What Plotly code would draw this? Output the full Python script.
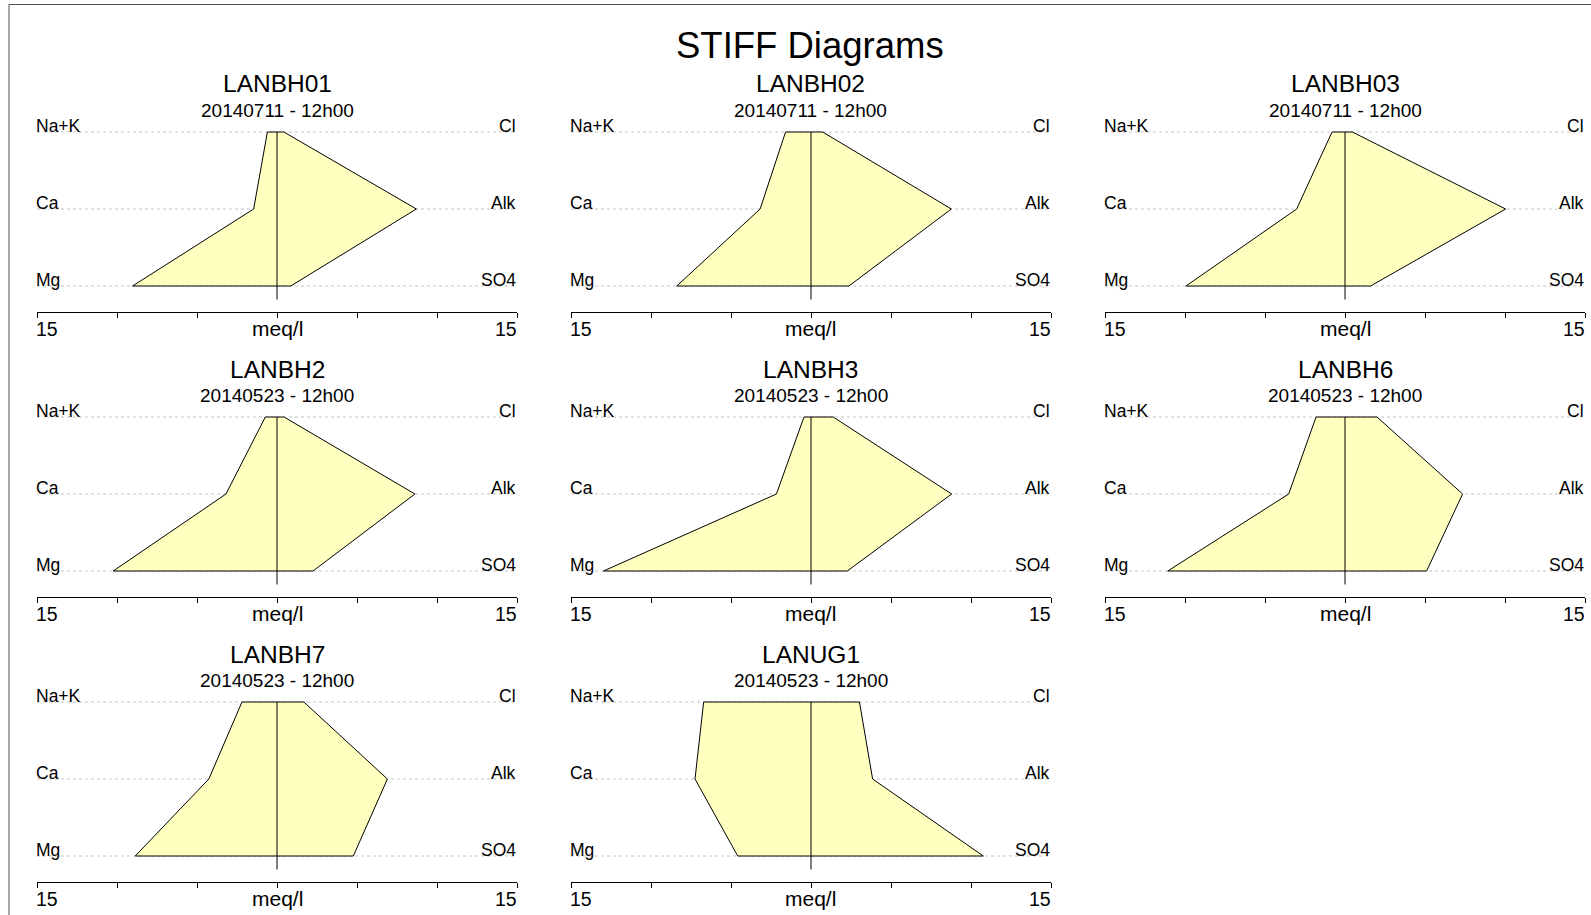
import plotly.graph_objects as go

# ---------------- data ----------------
samples = ["LANBH01", "LANBH02", "LANBH03", "LANBH2", "LANBH3", "LANBH6", "LANBH7", "LANUG1"]
dates = ["20140711 - 12h00", "20140711 - 12h00", "20140711 - 12h00",
         "20140523 - 12h00", "20140523 - 12h00", "20140523 - 12h00",
         "20140523 - 12h00", "20140523 - 12h00"]
cations = ["Na+K", "Ca", "Mg"]
anions = ["Cl", "Alk", "SO4"]
na_k = [0.60, 1.59, 0.81, 0.73, 0.44, 1.81, 2.19, 6.71]
ca   = [1.46, 3.18, 3.02, 3.19, 2.16, 3.52, 4.26, 7.25]
mg   = [9.03, 8.39, 9.94, 10.24, 12.97, 11.08, 8.86, 4.58]
cl   = [0.43, 0.73, 0.46, 0.44, 1.39, 2.00, 1.68, 3.03]
alk  = [8.71, 8.77, 10.04, 8.62, 8.79, 7.35, 6.90, 3.85]
so4  = [0.86, 2.37, 1.60, 2.25, 2.27, 5.10, 4.77, 10.77]
axis_max = 15
tick_vals = [-15, -10, -5, 0, 5, 10, 15]
unit_label = "meq/l"
main_title = "STIFF Diagrams"

# ---------------- layout geometry (pixels) ----------------
W, H = 1591, 915
FONT = "Liberation Sans, Arial, sans-serif"
COL_X0, COL_STEP, PANEL_W = 37, 534, 480
ROW_Y0, ROW_STEP, ROW_GAP = 132, 285, 77
AXIS_BELOW = 25.5
CENTER_BELOW = 13.5
TOP_PAD = 0.3

fill_col = "#FFFFC0"
grid_col = "#c4c4c4"

def px(x):
    return x / W

def py(y):
    return 1 - y / H

fig = go.Figure()
annotations = []
layout_axes = {}

for i, name in enumerate(samples):
    r, c = divmod(i, 3)
    x0 = COL_X0 + COL_STEP * c
    x1 = x0 + PANEL_W
    y_top_line = ROW_Y0 + ROW_STEP * r
    y_axis = y_top_line + 2 * ROW_GAP + AXIS_BELOW
    y_bot_val = 2 + AXIS_BELOW / ROW_GAP
    y_top_px = y_top_line - TOP_PAD * ROW_GAP

    k = "" if i == 0 else str(i + 1)
    xa, ya = "x" + k, "y" + k

    layout_axes["xaxis" + k] = dict(
        domain=[px(x0), px(x1)], range=[-axis_max, axis_max], anchor=ya,
        tickvals=tick_vals, ticks="outside", ticklen=5, tickcolor="black", tickwidth=1,
        showline=True, linecolor="black", linewidth=1, showgrid=False, zeroline=False,
        showticklabels=False, fixedrange=True,
    )
    layout_axes["yaxis" + k] = dict(
        domain=[py(y_axis), py(y_top_px)], range=[y_bot_val, -TOP_PAD], anchor=xa,
        visible=False, fixedrange=True,
    )

    # dotted row lines
    for row in range(3):
        fig.add_trace(go.Scatter(
            x=[-axis_max, axis_max], y=[row, row], mode="lines",
            line=dict(color=grid_col, width=1, dash="dot"),
            xaxis=xa, yaxis=ya, hoverinfo="skip", showlegend=False))

    # stiff polygon
    px_list = [-na_k[i], cl[i], alk[i], so4[i], -mg[i], -ca[i], -na_k[i]]
    py_list = [0, 0, 1, 2, 2, 1, 0]
    fig.add_trace(go.Scatter(
        x=px_list, y=py_list, mode="lines", fill="toself", fillcolor=fill_col,
        line=dict(color="black", width=1), xaxis=xa, yaxis=ya,
        name=name, showlegend=False))

    # central line
    fig.add_trace(go.Scatter(
        x=[0, 0], y=[0, 2 + CENTER_BELOW / ROW_GAP], mode="lines",
        line=dict(color="black", width=1), xaxis=xa, yaxis=ya,
        hoverinfo="skip", showlegend=False))

    # ion labels
    for row in range(3):
        annotations.append(dict(
            text=cations[row], x=-axis_max, y=row, xref=xa, yref=ya,
            xanchor="left", yanchor="bottom", showarrow=False, xshift=-3, yshift=-6,
            font=dict(family=FONT, size=17.5, color="black")))
        annotations.append(dict(
            text=anions[row], x=axis_max, y=row, xref=xa, yref=ya,
            xanchor="right", yanchor="bottom", showarrow=False, xshift=1, yshift=-6,
            font=dict(family=FONT, size=17.5, color="black")))

    # axis labels
    yl = py(y_axis + 17)
    annotations.append(dict(text=str(axis_max), x=px(x0), y=yl, xref="paper", yref="paper",
                            xanchor="left", yanchor="middle", showarrow=False, xshift=-3,
                            font=dict(family=FONT, size=19.5, color="black")))
    annotations.append(dict(text=str(axis_max), x=px(x1), y=yl, xref="paper", yref="paper",
                            xanchor="right", yanchor="middle", showarrow=False, xshift=2,
                            font=dict(family=FONT, size=19.5, color="black")))
    annotations.append(dict(text=unit_label, x=px((x0 + x1) / 2), y=yl, xref="paper", yref="paper",
                            xanchor="center", yanchor="middle", showarrow=False,
                            font=dict(family=FONT, size=21, color="black")))

    # panel title + date
    annotations.append(dict(text=name, x=px((x0 + x1) / 2), y=py(y_top_line - 48),
                            xref="paper", yref="paper", xanchor="center", yanchor="middle",
                            showarrow=False, font=dict(family=FONT, size=24.5, color="black")))
    annotations.append(dict(text=dates[i], x=px((x0 + x1) / 2), y=py(y_top_line - 22),
                            xref="paper", yref="paper", xanchor="center", yanchor="middle",
                            showarrow=False, font=dict(family=FONT, size=19, color="black")))

annotations.append(dict(text=main_title, x=px(810), y=py(45), xref="paper", yref="paper",
                        xanchor="center", yanchor="middle", showarrow=False,
                        font=dict(family=FONT, size=36.5, color="black")))

fig.update_layout(
    width=W, height=H, margin=dict(l=0, r=0, t=0, b=0),
    paper_bgcolor="white", plot_bgcolor="rgba(0,0,0,0)",
    annotations=annotations, showlegend=False,
    shapes=[dict(type="rect", xref="paper", yref="paper",
                 x0=px(9), y0=-0.05, x1=1.05, y1=py(4.5),
                 line=dict(color="#505050", width=1))],
    **layout_axes,
)

fig.write_html("out.html", config={"staticPlot": True},
               post_script="document.body.style.margin='0';document.body.style.overflow='hidden';")
